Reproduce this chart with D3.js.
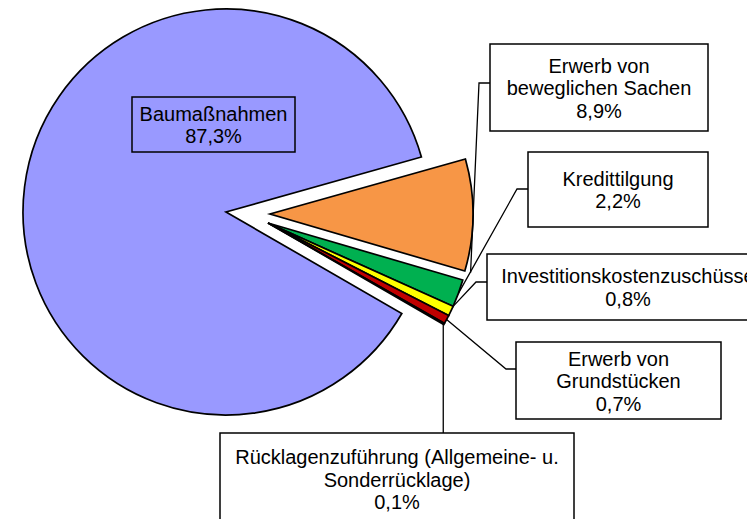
<!DOCTYPE html>
<html>
<head>
<meta charset="utf-8">
<script src="https://cdn.jsdelivr.net/npm/d3@7"></script>
<style>
    body { margin: 0; background: #fff; }
    .slice { stroke: #000; stroke-width: 1.7; stroke-linejoin: miter; }
    .leader { fill: none; stroke: #000; stroke-width: 1.3; }
    .box { stroke: #000; stroke-width: 1.5; }
    .lbl { font-family: "Liberation Sans", Arial, sans-serif; font-size: 20px; fill: #000; }
</style>
</head>
<body>
<script>
// data
const categories = [
    "Baumaßnahmen",
    "Erwerb von beweglichen Sachen",
    "Kredittilgung",
    "Investitionskostenzuschüsse",
    "Erwerb von Grundstücken",
    "Rücklagenzuführung (Allgemeine- u. Sonderrücklage)"
];
const shares = [87.3, 8.9, 2.2, 0.8, 0.7, 0.1];
const labelLines = [
    ["Baumaßnahmen"],
    ["Erwerb von", "beweglichen Sachen"],
    ["Kredittilgung"],
    ["Investitionskostenzuschüsse"],
    ["Erwerb von", "Grundstücken"],
    ["Rücklagenzuführung (Allgemeine- u.", "Sonderrücklage)"]
];
const colors = ["#9999FF", "#F79646", "#00B050", "#FFFF00", "#C00000", "#000000"];

// layout
const width = 747, height = 519;
const cx = 226, cy = 212, radius = 203;
// offsets of the pulled out slices
const explode = [[0, 0], [44, 2], [42, 11], [42, 11], [42, 11], [42, 11]];
const lineH = 22.5;
// label boxes: x, y, w, h, leader elbow, anchor fraction within slice
const boxes = [
    { x: 132, y: 97,  w: 163, h: 55, noLeader: true, fill: "none" },
    { x: 490, y: 44,  w: 218, h: 87, elbow: [479, 83],  f: 1.0, ext: 6 },
    { x: 528, y: 152, w: 180, h: 75, elbow: [517, 189], f: 0.5, ext: 0 },
    { x: 487, y: 254, w: 282, h: 66, elbow: [476, 282], f: 0.0, ext: 0 },
    { x: 516, y: 342, w: 205, h: 77, elbow: [506, 369], f: 0.5, ext: 0 },
    { x: 220, y: 433, w: 354, h: 92, vertical: true, f: 0.5, ext: -1 }
];

const fmt = v => d3.format(".1f")(v).replace(".", ",") + "%";
const rad = deg => deg * Math.PI / 180;

const svg = d3.select("body").append("svg")
    .attr("width", width)
    .attr("height", height);

const pie = d3.pie()
    .sort(null)
    .value(d => d)
    .startAngle(rad(120))
    .endAngle(rad(480));

const arcs = pie(shares);
const arc = d3.arc().innerRadius(0).outerRadius(radius);

svg.append("g")
    .selectAll("path")
    .data(arcs)
    .enter().append("path")
    .attr("class", "slice")
    .attr("fill", (d, i) => colors[i])
    .attr("transform", (d, i) => "translate(" + (cx + explode[i][0]) + "," + (cy + explode[i][1]) + ")")
    .attr("d", arc);

/**
 * Point on the outer edge of a slice
 */
const anchor = (d, i, f, ext) => {
    const a = d.startAngle + f * (d.endAngle - d.startAngle);
    const r = radius + ext;
    return [cx + explode[i][0] + Math.sin(a) * r, cy + explode[i][1] - Math.cos(a) * r];
};

// leader lines
boxes.forEach((b, i) => {
    if (b.noLeader) return;
    const p = anchor(arcs[i], i, b.f, b.ext);
    const pts = b.vertical ? [p, [p[0], b.y]] : [p, b.elbow, [b.x, b.elbow[1]]];
    svg.append("path")
        .attr("class", "leader")
        .attr("stroke-width", b.vertical ? 3 : 1.3)
        .attr("d", d3.line()(pts));
});

// label boxes
boxes.forEach((b, i) => {
    const g = svg.append("g");
    g.append("rect")
        .attr("class", "box")
        .attr("x", b.x).attr("y", b.y)
        .attr("width", b.w).attr("height", b.h)
        .attr("fill", b.fill || "#fff");
    const lines = labelLines[i].concat([fmt(shares[i])]);
    const mx = b.x + b.w / 2, my = b.y + b.h / 2;
    g.selectAll("text")
        .data(lines)
        .enter().append("text")
        .attr("class", "lbl")
        .attr("text-anchor", "middle")
        .attr("x", mx)
        .attr("y", (t, k) => my + (k - (lines.length - 1) / 2) * lineH + 7.5)
        .text(t => t);
});
</script>
</body>
</html>
